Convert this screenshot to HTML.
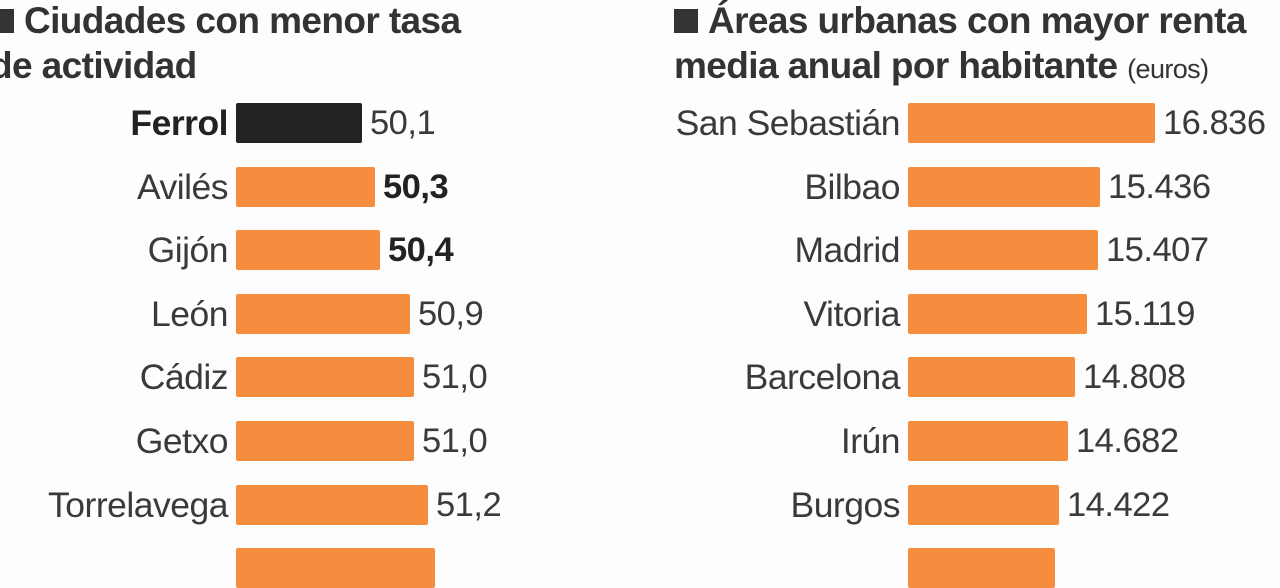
<!DOCTYPE html>
<html><head><meta charset="utf-8"><style>
body{margin:0;width:1280px;height:548px;background:#fdfdfd;overflow:hidden;position:relative;font-family:"Liberation Sans Narrow","Liberation Sans",sans-serif;color:#3a3a3a}
.t{position:absolute;font-weight:bold;font-size:37px;line-height:45px;color:#333;letter-spacing:-0.6px}
.sq{display:inline-block;width:24px;height:24px;background:#333;margin-right:10px;vertical-align:0px}
.l{position:absolute;text-align:right;font-size:35.5px;line-height:40px;letter-spacing:-0.5px}
.b{position:absolute;height:40px;background:#f68d3e;border-radius:2px}
.v{position:absolute;font-size:34.5px;line-height:40px;letter-spacing:-0.5px}
</style></head><body>
<div class="t" style="left:-10px;top:-2px"><span class="sq"></span>Ciudades con menor tasa<br>de actividad</div>
<div class="t" style="left:674px;top:-2px"><span class="sq"></span>Áreas urbanas con mayor renta<br>media anual por habitante <span style="font-size:27px;font-weight:normal">(euros)</span></div>
<div id="c"></div>
<script>
var L=[["Ferrol",362,"50,1",1],["Avilés",375,"50,3",2],["Gijón",380,"50,4",2],["León",410,"50,9"],["Cádiz",414,"51,0"],["Getxo",414,"51,0"],["Torrelavega",428,"51,2"],["",435,""]];
var R=[["San Sebastián",1155,"16.836"],["Bilbao",1100,"15.436"],["Madrid",1098,"15.407"],["Vitoria",1087,"15.119"],["Barcelona",1075,"14.808"],["Irún",1068,"14.682"],["Burgos",1059,"14.422"],["",1055,""]];
var h="";
function row(a,i,x0,lw){var t=103+63.6*i;
h+='<div class="l" style="left:'+(x0-8-lw)+'px;width:'+lw+'px;top:'+t+'px;'+(a[3]==1?'font-weight:bold;color:#222':'')+'">'+a[0]+'</div>';
h+='<div class="b" style="left:'+x0+'px;width:'+(a[1]-x0)+'px;top:'+t+'px;'+(a[3]==1?'background:#222':'')+'"></div>';
h+='<div class="v" style="left:'+(a[1]+8)+'px;top:'+t+'px;'+(a[3]==2?'font-weight:bold;color:#222':'')+'">'+a[2]+'</div>';}
L.forEach(function(a,i){row(a,i,236,230)});
R.forEach(function(a,i){row(a,i,908,280)});
document.getElementById("c").innerHTML=h;
</script>
</body></html>
